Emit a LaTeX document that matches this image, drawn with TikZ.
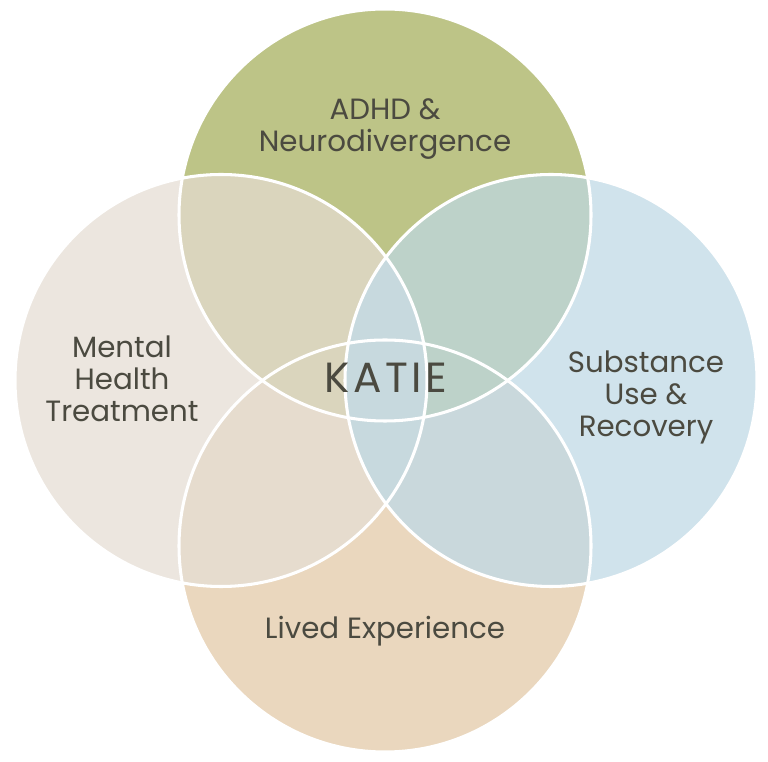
\documentclass[tikz,border=0pt]{standalone}
\usepackage{fontspec}
\setmainfont{Poppins}
\definecolor{ink}{HTML}{4B4A40}
\definecolor{topc}{HTML}{BDC487}
\definecolor{leftc}{HTML}{ECE6DF}
\definecolor{rightc}{HTML}{D0E3EC}
\definecolor{botc}{HTML}{EAD7BE}
\definecolor{tlc}{HTML}{DAD5BD}
\definecolor{trc}{HTML}{BDD2C9}
\definecolor{lbc}{HTML}{E6DCCE}
\definecolor{rbc}{HTML}{C9D8DC}
\definecolor{lrc}{HTML}{C7D9DE}
\begin{document}
\begin{tikzpicture}[x=0.03cm,y=0.03cm,line join=round,line cap=round,
	ring/.style={draw=white,line width=2.6pt},
	lbl/.style={align=center,text=ink,font=\fontsize{25}{27.5}\selectfont}]
	\useasboundingbox (0,0) rectangle (768,761);
	\def\rad{206}
	\coordinate (T) at (385,546);
	\coordinate (B) at (385,215);
	\coordinate (L) at (221,380.5);
	\coordinate (R) at (551,380.5);
	% plain circles
	\fill[topc] (T) circle (\rad);
	\fill[botc] (B) circle (\rad);
	\fill[leftc] (L) circle (\rad);
	\fill[rightc] (R) circle (\rad);
	% overlaps
	\begin{scope}\clip (B) circle (\rad);
		\fill[lbc] (L) circle (\rad);
		\fill[rbc] (R) circle (\rad);
	\end{scope}
	\begin{scope}\clip (T) circle (\rad);
		\fill[tlc] (L) circle (\rad);
		\fill[trc] (R) circle (\rad);
	\end{scope}
	\begin{scope}\clip (L) circle (\rad);
		\fill[lrc] (R) circle (\rad);
	\end{scope}
	\foreach \c in {T,B,L,R}
	\draw[ring] (\c) circle (\rad);
	% labels
	\node[lbl,anchor=base] (adhd) at (385,609) {ADHD \&\\Neurodivergence};
	\node[lbl,anchor=base] (mental) at (122,339) {Mental\\Health\\Treatment};
	\node[lbl,anchor=base] (subst) at (646,324) {Substance\\Use \&\\Recovery};
	\node[lbl,anchor=base] (lived) at (385,123) {Lived Experience};
	\node[text=ink,anchor=base,font=\fontsize{36}{36}\selectfont\addfontfeature{LetterSpace=8}] (katie) at (386,368) {KATIE};
\end{tikzpicture}
\end{document}
